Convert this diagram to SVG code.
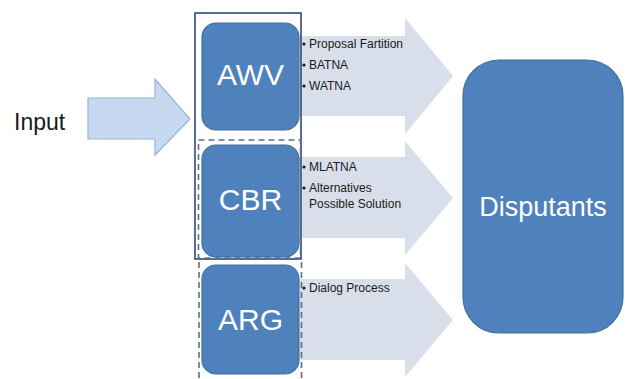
<svg xmlns="http://www.w3.org/2000/svg" width="625" height="379" viewBox="0 0 625 379">
<style>
.blk{fill:#4f81bd;stroke:#41719c;stroke-width:1.2}
.big{font-family:"Liberation Sans",Arial,sans-serif;fill:#ffffff;text-anchor:middle}
.lbl{font-family:"Liberation Sans",Arial,sans-serif;font-size:12px;fill:#1a1a1a}
.flow{fill:#d9dfea;stroke:none}
.dash{fill:none;stroke:#5f6f84;stroke-width:1.6;stroke-dasharray:6 4}
.bul{fill:#1a1a1a}
</style>
<rect width="625" height="379" fill="#ffffff"/>
<g id="connectors">
<path class="flow" d="M300,36 H405 V18 L453,76 L405,134 V116 H300 Z"/>
<path class="flow" d="M300,157 H405 V141 L453,198 L405,255 V238 H300 Z"/>
<path class="flow" d="M300,279 H405 V263 L453,320 L405,377 V360 H300 Z"/>
<path d="M88,98 H155 V79 L190,119 L155,155 V139 H88 Z" fill="#c6d9f1" stroke="#95b3d7" stroke-width="1.2"/>
</g>
<g id="input">
<text x="14" y="130" font-family="'Liberation Sans',Arial,sans-serif" font-size="23" fill="#1a1a1a">Input</text>
</g>
<g id="group-frame">
<rect x="195" y="13" width="106" height="246" fill="none" stroke="#2e4a7a" stroke-width="1.6"/>
<rect class="dash" x="198.5" y="140" width="102" height="118"/>
<path class="dash" d="M199,262 V379 M301.5,262 V379"/>
</g>
<g id="awv">
<rect class="blk" x="202" y="23" width="97" height="107" rx="14"/>
<text class="big" x="250.5" y="85" font-size="30">AWV</text>
</g>
<g id="cbr">
<rect class="blk" x="202" y="145" width="97" height="112" rx="14"/>
<text class="big" x="250.5" y="210" font-size="30">CBR</text>
</g>
<g id="arg">
<rect class="blk" x="202" y="265" width="97" height="109" rx="14"/>
<text class="big" x="250.5" y="330" font-size="30">ARG</text>
</g>
<g id="awv-items">
<circle class="bul" cx="304" cy="44" r="1.6"/>
<text class="lbl" x="309" y="48">Proposal Fartition</text>
<circle class="bul" cx="304" cy="65" r="1.6"/>
<text class="lbl" x="309" y="69">BATNA</text>
<circle class="bul" cx="304" cy="86" r="1.6"/>
<text class="lbl" x="309" y="90">WATNA</text>
</g>
<g id="cbr-items">
<circle class="bul" cx="304" cy="167" r="1.6"/>
<text class="lbl" x="309" y="171">MLATNA</text>
<circle class="bul" cx="304" cy="188" r="1.6"/>
<text class="lbl" x="309" y="192">Alternatives</text>
<text class="lbl" x="309" y="208">Possible Solution</text>
</g>
<g id="arg-items">
<circle class="bul" cx="304" cy="288" r="1.6"/>
<text class="lbl" x="309" y="292">Dialog Process</text>
</g>
<g id="disputants">
<rect class="blk" x="463" y="60" width="160" height="273" rx="36"/>
<text class="big" x="543" y="216" font-size="27">Disputants</text>
</g>
</svg>
